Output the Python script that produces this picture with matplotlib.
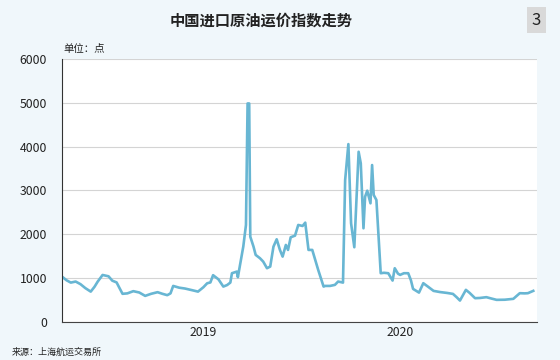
import pandas as pd
import matplotlib
matplotlib.use("Agg")
import matplotlib.pyplot as plt

plt.rcParams['font.family'] = ['Noto Sans CJK SC', 'DejaVu Sans']

# 中国进口原油运价指数
dates = [
    '2018-04-16', '2018-04-22', '2018-04-30', '2018-05-09', '2018-05-18', '2018-05-27',
    '2018-06-06', '2018-06-13', '2018-06-19', '2018-06-28', '2018-07-09', '2018-07-16',
    '2018-07-24', '2018-07-29', '2018-08-04', '2018-08-13', '2018-08-24', '2018-09-04',
    '2018-09-15', '2018-09-26', '2018-10-08', '2018-10-17', '2018-10-26', '2018-11-01',
    '2018-11-06', '2018-11-17', '2018-11-28', '2018-12-12', '2018-12-22', '2019-01-01',
    '2019-01-08', '2019-01-14', '2019-01-19', '2019-01-29', '2019-02-07', '2019-02-14',
    '2019-02-20', '2019-02-23', '2019-03-04', '2019-03-06', '2019-03-10', '2019-03-16',
    '2019-03-21', '2019-03-24', '2019-03-27', '2019-03-29', '2019-04-04', '2019-04-08',
    '2019-04-16', '2019-04-22', '2019-04-29', '2019-05-05', '2019-05-11', '2019-05-17',
    '2019-05-23', '2019-05-28', '2019-06-03', '2019-06-07', '2019-06-12', '2019-06-20',
    '2019-06-26', '2019-07-04', '2019-07-09', '2019-07-15', '2019-07-22', '2019-08-02',
    '2019-08-12', '2019-08-15', '2019-08-24', '2019-09-02', '2019-09-08', '2019-09-17',
    '2019-09-21', '2019-09-27', '2019-10-02', '2019-10-08', '2019-10-16', '2019-10-20',
    '2019-10-25', '2019-10-28', '2019-11-01', '2019-11-07', '2019-11-10', '2019-11-13',
    '2019-11-18', '2019-11-26', '2019-12-02', '2019-12-10', '2019-12-18', '2019-12-22',
    '2019-12-28', '2020-01-01', '2020-01-08', '2020-01-16', '2020-01-21', '2020-01-25',
    '2020-02-05', '2020-02-13', '2020-02-22', '2020-03-03', '2020-03-15', '2020-03-28',
    '2020-04-08', '2020-04-15', '2020-04-21', '2020-05-02', '2020-05-09', '2020-05-19',
    '2020-05-28', '2020-06-09', '2020-06-19', '2020-06-28', '2020-07-13', '2020-07-29',
    '2020-08-10', '2020-08-19', '2020-08-25', '2020-09-04',
]
values = [
    1010, 950, 896, 920, 860, 770,
    690, 800, 920, 1070, 1040, 940,
    900, 780, 640, 650, 700, 670,
    593, 640, 677, 640, 609, 650,
    820, 780, 760, 720, 690, 790,
    880, 900, 1065, 970, 805, 840,
    896, 1110, 1147, 1019, 1300, 1717,
    2212, 4986, 4986, 1945, 1717, 1528,
    1452, 1375, 1224, 1262, 1717, 1885,
    1642, 1489, 1756, 1642, 1931, 1968,
    2212, 2189, 2265, 1642, 1642, 1186,
    805, 820, 820, 844, 920, 896,
    3238, 4058, 2250, 1703, 3883, 3618,
    2136, 2857, 2994, 2706, 3580, 2896,
    2782, 1110, 1120, 1110, 942, 1224,
    1100, 1072, 1110, 1110, 950, 752,
    668, 882, 800, 707, 680, 660,
    638, 560, 486, 730, 660, 540,
    545, 563, 530, 502, 505, 525,
    654, 650, 654, 707,
]
yticks = [0, 1000, 2000, 3000, 4000, 5000, 6000]
xtick_dates = ['2019-01-01', '2020-01-01']
xtick_labels = ['2019', '2020']

bg = '#f0f7fb'
fig = plt.figure(figsize=(5.6, 3.6), dpi=100, facecolor=bg)
ax = fig.add_axes([0.111, 0.106, 0.848, 0.730])
ax.set_facecolor('white')

ax.plot(pd.to_datetime(dates), values, color='#68b6d3', lw=1.9, solid_joinstyle='round')

ax.set_ylim(0, 6000)
ax.set_yticks(yticks)
ax.set_xlim(pd.Timestamp('2018-04-14'), pd.Timestamp('2020-09-11'))
ax.set_xticks(pd.to_datetime(xtick_dates))
ax.set_xticklabels(xtick_labels)
ax.grid(axis='y', color='#d4d4d4', lw=0.8)
ax.set_axisbelow(True)
ax.tick_params(length=0, labelsize=8.8, colors='#222222')
ax.tick_params(axis='y', pad=11)
ax.tick_params(axis='x', pad=3)
for s in ['top', 'right']:
    ax.spines[s].set_visible(False)
ax.spines['left'].set_color('#333333')
ax.spines['bottom'].set_color('#444444')

fig.text(0.467, 0.944, '中国进口原油运价指数走势', ha='center', va='center',
         fontsize=11, fontweight='bold', color='#222222')
fig.text(0.958, 0.944, '3', ha='center', va='center', fontsize=12, color='#222222',
         bbox=dict(boxstyle='square,pad=0.28', fc='#d9d9d9', ec='none'))
fig.text(0.113, 0.864, '单位：点', ha='left', va='center', fontsize=7.5, color='#222222')
fig.text(0.021, 0.022, '来源：上海航运交易所', ha='left', va='center', fontsize=6.5, color='#222222')

fig.savefig('out.png', dpi=100, facecolor=bg)
